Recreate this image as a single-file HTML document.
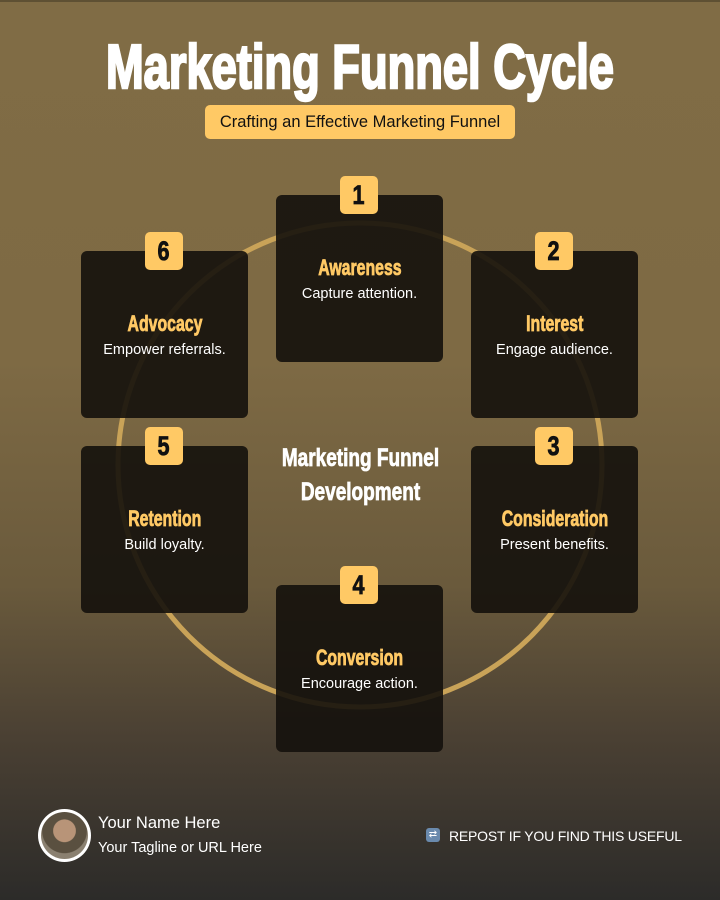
<!DOCTYPE html>
<html><head><meta charset="utf-8"><style>
*{margin:0;padding:0;box-sizing:border-box}
body{width:720px;height:900px;overflow:hidden;position:relative;font-family:"Liberation Sans",sans-serif;
background:linear-gradient(180deg,#806c45 0%,#7e6a44 40%,#6a5a3c 65%,#4a4033 82%,#2c2b29 100%);}
.c{position:absolute;left:0;width:720px;text-align:center}
.cond{display:inline-block;font-weight:bold;transform:scaleX(0.72);transform-origin:center;white-space:nowrap;-webkit-text-stroke:0.8px currentColor}
.box{position:absolute;width:167px;height:167px;background:rgba(20,17,12,0.9);border-radius:6px;text-align:center}
.badge{position:absolute;left:64px;top:-19px;width:38px;height:38px;background:#ffc965;border-radius:5px;font-weight:bold;font-size:27px;line-height:38px;color:#111;text-align:center}
.badge span{display:inline-block;transform:scaleX(0.8);-webkit-text-stroke:0.8px #111}
.bt{position:absolute;left:0;width:167px;top:60px;color:#ffc965;font-size:22px}
.bd{position:absolute;left:0;width:167px;top:91px;color:#fff;font-size:14.5px}
</style></head><body>
<div style="position:absolute;left:0;top:0;width:720px;height:2px;background:#5e5033"></div>
<div class="c" style="top:32px;font-size:62px;color:#fff;line-height:72px"><span class="cond" style="transform:scaleX(0.73);-webkit-text-stroke:2.5px #fff">Marketing Funnel Cycle</span></div>
<div style="position:absolute;left:205px;top:105px;width:310px;height:34px;background:#ffc965;border-radius:5px;text-align:center;font-size:16.5px;line-height:34px;color:#111">Crafting an Effective Marketing Funnel</div>
<svg style="position:absolute;left:0;top:0" width="720" height="900"><circle cx="360" cy="465" r="242" fill="none" stroke="#c9a358" stroke-width="5"/></svg>
<div class="box" style="left:276px;top:195px"><div class="badge"><span>1</span></div><div class="bt"><span class="cond">Awareness</span></div><div class="bd">Capture attention.</div></div>
<div class="box" style="left:471px;top:251px"><div class="badge"><span>2</span></div><div class="bt"><span class="cond">Interest</span></div><div class="bd">Engage audience.</div></div>
<div class="box" style="left:471px;top:446px"><div class="badge"><span>3</span></div><div class="bt"><span class="cond">Consideration</span></div><div class="bd">Present benefits.</div></div>
<div class="box" style="left:276px;top:585px"><div class="badge"><span>4</span></div><div class="bt"><span class="cond">Conversion</span></div><div class="bd">Encourage action.</div></div>
<div class="box" style="left:81px;top:446px"><div class="badge"><span>5</span></div><div class="bt"><span class="cond">Retention</span></div><div class="bd">Build loyalty.</div></div>
<div class="box" style="left:81px;top:251px"><div class="badge"><span>6</span></div><div class="bt"><span class="cond">Advocacy</span></div><div class="bd">Empower referrals.</div></div>
<div class="c" style="top:441px;font-size:25px;color:#fff;line-height:34px"><span class="cond" style="transform:scaleX(0.76)">Marketing Funnel</span><br><span class="cond" style="transform:scaleX(0.76)">Development</span></div>
<div style="position:absolute;left:38px;top:809px;width:53px;height:53px;border-radius:50%;background:#fff;padding:3px"><div style="width:47px;height:47px;border-radius:50%;background:radial-gradient(circle at 50% 40%,#b89478 0 30%,#5a5040 32% 60%,#8a8070 62%)"></div></div>
<div style="position:absolute;left:98px;top:814px;color:#fff;font-size:16.5px">Your Name Here</div>
<div style="position:absolute;left:98px;top:840px;color:#fff;font-size:14.5px">Your Tagline or URL Here</div>
<div style="position:absolute;left:426px;top:828px;width:14px;height:14px;background:#6a8aad;border-radius:3px;color:#fff;font-size:10px;line-height:14px;text-align:center">⇄</div>
<div style="position:absolute;left:449px;top:828px;color:#fff;font-size:14px;letter-spacing:-0.2px">REPOST IF YOU FIND THIS USEFUL</div>
</body></html>
